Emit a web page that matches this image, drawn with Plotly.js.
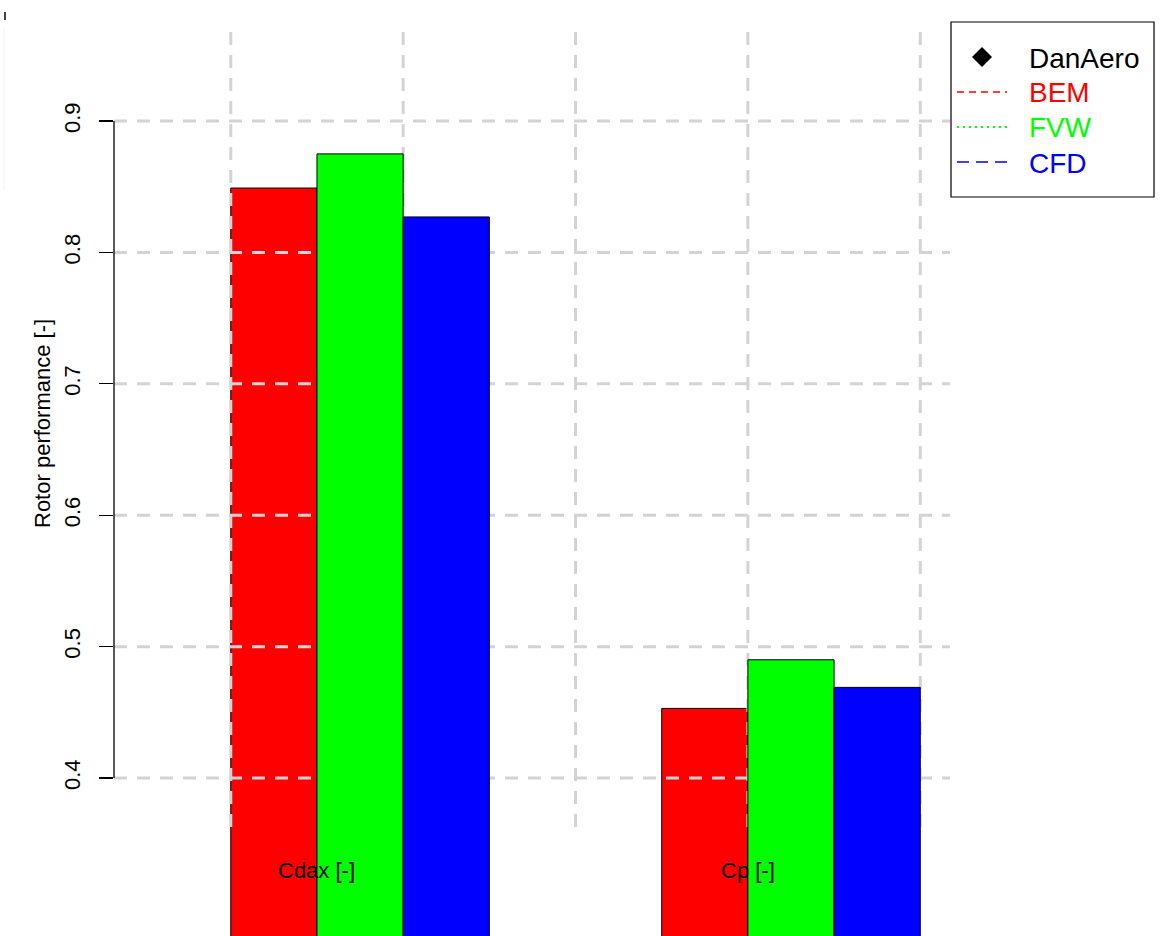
<!DOCTYPE html>
<html>
<head>
<meta charset="utf-8">
<script src="https://cdn.plot.ly/plotly-3.0.1.min.js"></script>
<style>html,body{margin:0;padding:0;background:#fff;}#chart{width:1160px;height:936px;}</style>
</head>
<body>
<div id="chart"></div>
<script>
// ---- data ----
var categories = ['Cdax [-]', 'Cp [-]'];
var seriesNames = ['BEM', 'FVW', 'CFD'];
var bemValues = [0.849, 0.453];
var fvwValues = [0.875, 0.490];
var cfdValues = [0.827, 0.469];
var yTickValues = [0.4, 0.5, 0.6, 0.7, 0.8, 0.9];
var yTickLabels = ['0.4', '0.5', '0.6', '0.7', '0.8', '0.9'];
var legendNames = ['DanAero', 'BEM', 'FVW', 'CFD'];
var yTitle = 'Rotor performance [-]';

// ---- layout constants ----
var FONT = 'Liberation Sans, Arial, Helvetica, sans-serif';
var W = 1160, H = 936, ML = 114, MR = 210;
var PW = W - ML - MR;
var xRange = [-0.571, 1.369];
var yRange = [0.2798, 0.9921];
var barWidth = 0.2;
var barOffsets = [-0.3, -0.1, 0.1];
var colors = ['#ff0000', '#00ff00', '#0000ff'];
var legendColors = ['#000000', '#ff0000', '#00ff00', '#0000ff'];
var legendDashes = [null, '7px,5px', '2px,4px', '12px,7px'];
var vGridPos = [-0.3, 0.1, 0.5, 0.9, 1.3];
var vGridSpan = [0.3627, 0.9746];
var gridStyle = {color: '#d3d3d3', width: 3, dash: '13px,10px'};

function px(x) { return (x - ML) / PW; }
function py(y) { return 1 - y / H; }

var groupIdx = categories.map(function (c, i) { return i; });
var allValues = [bemValues, fvwValues, cfdValues];

function barTrace(k, xa, ya) {
  return {
    type: 'bar', x: groupIdx, y: allValues[k], name: seriesNames[k],
    width: barWidth, offset: barOffsets[k],
    marker: {color: colors[k], line: {color: '#000', width: 1}},
    xaxis: xa, yaxis: ya, showlegend: false, hoverinfo: 'skip',
    text: categories, textposition: 'none'
  };
}

// horizontal gridlines
var hx = [], hy = [];
yTickValues.forEach(function (v) { hx.push(xRange[0], xRange[1], null); hy.push(v, v, null); });
// vertical gridlines
var vx = [], vy = [];
vGridPos.forEach(function (p) { vx.push(p, p, null); vy.push(vGridSpan[0], vGridSpan[1], null); });

var traces = [
  barTrace(0, 'x', 'y'),
  {type: 'scatter', mode: 'lines', x: hx, y: hy, line: gridStyle, showlegend: false, hoverinfo: 'skip', xaxis: 'x', yaxis: 'y', connectgaps: false},
  {type: 'scatter', mode: 'lines', x: vx, y: vy, line: gridStyle, showlegend: false, hoverinfo: 'skip', xaxis: 'x', yaxis: 'y', connectgaps: false},
  barTrace(1, 'x2', 'y2'),
  barTrace(2, 'x2', 'y2')
];

var annotations = categories.map(function (c, i) {
  return {
    text: c, x: i + barOffsets[1], xref: 'x', y: py(870), yref: 'paper',
    showarrow: false, xanchor: 'center', yanchor: 'middle',
    font: {family: FONT, size: 22, color: '#000'}
  };
});
// y-axis title (centred on the plot region like the original)
annotations.push({text: yTitle, textangle: -90, xref: 'paper', yref: 'paper',
  x: px(43), y: py(424), xanchor: 'center', yanchor: 'middle', showarrow: false,
  font: {family: FONT, size: 22, color: '#000'}});

// ---- legend (box, keys, labels) ----
var shapes = [
  {type: 'line', xref: 'paper', yref: 'y', x0: 0, x1: 0, y0: yTickValues[0], y1: yTickValues[yTickValues.length - 1],
   line: {color: '#000', width: 1.3}},
  {type: 'line', xref: 'paper', yref: 'paper', x0: px(5), x1: px(5), y0: py(12), y1: py(20),
   line: {color: '#000', width: 1.5}},
  {type: 'line', xref: 'paper', yref: 'paper', x0: px(4), x1: px(4), y0: py(27), y1: py(190),
   line: {color: '#f2f2f2', width: 1}},
  {type: 'rect', xref: 'paper', yref: 'paper', x0: px(951), x1: px(1154), y0: py(22), y1: py(197),
   line: {color: '#000', width: 1.2}, fillcolor: '#fff', layer: 'above'}
];
var legY = [57, 92, 127, 162];
legendNames.forEach(function (n, i) {
  if (i === 0) {
    var cx = 982, cy = legY[i], r = 10;
    shapes.push({type: 'path', xref: 'paper', yref: 'paper', layer: 'above',
      path: 'M' + px(cx - r) + ',' + py(cy) + ' L' + px(cx) + ',' + py(cy - r) + ' L' + px(cx + r) + ',' + py(cy) +
            ' L' + px(cx) + ',' + py(cy + r) + ' Z',
      fillcolor: legendColors[i], line: {color: legendColors[i], width: 0}});
  } else {
    shapes.push({type: 'line', xref: 'paper', yref: 'paper', layer: 'above',
      x0: px(957), x1: px(1007), y0: py(legY[i]), y1: py(legY[i]),
      line: {color: legendColors[i], width: i === 2 ? 2 : 1.5, dash: legendDashes[i]}});
  }
  annotations.push({text: n, xref: 'paper', yref: 'paper', x: px(1027), y: py(legY[i] + 1),
    xanchor: 'left', yanchor: 'middle', showarrow: false,
    font: {family: FONT, size: 28, color: legendColors[i]}});
});

var layout = {
  width: W, height: H,
  margin: {l: ML, r: MR, t: 0, b: 0, pad: 0},
  paper_bgcolor: '#fff', plot_bgcolor: 'rgba(0,0,0,0)',
  font: {family: FONT, size: 22, color: '#000'},
  barmode: 'overlay',
  showlegend: false,
  xaxis: {type: 'linear', range: xRange, showgrid: false, zeroline: false, showline: false,
          showticklabels: false, ticks: '', fixedrange: true},
  yaxis: {type: 'linear', range: yRange, showgrid: false, zeroline: false, showline: false,
          tickmode: 'array', tickvals: yTickValues, ticktext: yTickLabels,
          ticks: 'outside', ticklen: 14, tickwidth: 1.3, tickcolor: '#000',
          tickangle: -90, tickfont: {family: FONT, size: 22, color: '#000'},
          ticklabelstandoff: 10,
          automargin: false, fixedrange: true},
  xaxis2: {type: 'linear', range: xRange, overlaying: 'x', visible: false, fixedrange: true},
  yaxis2: {type: 'linear', range: yRange, overlaying: 'y', visible: false, fixedrange: true},
  shapes: shapes,
  annotations: annotations
};

Plotly.newPlot('chart', traces, layout, {displayModeBar: false, staticPlot: true});
</script>
</body>
</html>
